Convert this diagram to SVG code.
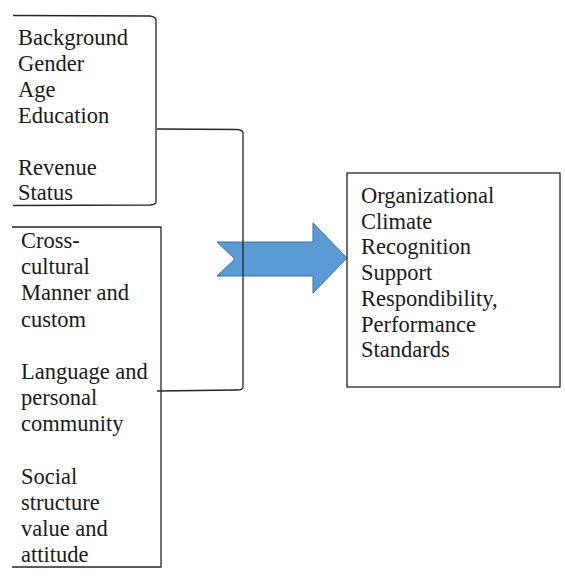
<svg xmlns="http://www.w3.org/2000/svg" width="565" height="586" viewBox="0 0 565 586">
<style>
.ln{fill:none;stroke:#262626;stroke-width:1.3}
.t{font-family:"Liberation Serif","Times New Roman",serif;font-size:22.5px;fill:#1a1a1a}
</style>
<rect width="565" height="586" fill="#fff"/>
<g id="demographics">
<path class="ln" d="M13,15.5 L150,16 Q156,17 156,20 L156,202 Q156,204.5 150,205 L13,205.5"/>
<text class="t" x="18" y="45">Background</text>
<text class="t" x="18" y="70.9">Gender</text>
<text class="t" x="18" y="96.8">Age</text>
<text class="t" x="18" y="122.7">Education</text>
<text class="t" x="18" y="174.5">Revenue</text>
<text class="t" x="18" y="200.4">Status</text>
</g>
<g id="arrow">
<polygon points="217,242 313,242 313,223 347,258 313,293 313,276 217,276 235,259" fill="#5B9BD5" stroke="#41719C" stroke-width="1"/>
</g>
<g id="cultural">
<path class="ln" d="M12,227 L161,227 L161,567 L12,567"/>
<text class="t" x="21" y="248">Cross-</text>
<text class="t" x="21" y="274.2">cultural</text>
<text class="t" x="21" y="300.4">Manner and</text>
<text class="t" x="21" y="326.6">custom</text>
<text class="t" x="21" y="379">Language and</text>
<text class="t" x="21" y="405.2">personal</text>
<text class="t" x="21" y="431.4">community</text>
<text class="t" x="21" y="483.8">Social</text>
<text class="t" x="21" y="510">structure</text>
<text class="t" x="21" y="536.2">value and</text>
<text class="t" x="21" y="562.4">attitude</text>
</g>
<g id="connectors">
<path class="ln" d="M157,129 L237,129.5 Q243,130 243,133 L243,387 Q243,390 237,390 L157,391"/>
</g>
<g id="climate">
<rect class="ln" x="347" y="173" width="213" height="214"/>
<text class="t" x="361" y="203">Organizational</text>
<text class="t" x="361" y="228.7">Climate</text>
<text class="t" x="361" y="254.4">Recognition</text>
<text class="t" x="361" y="280.1">Support</text>
<text class="t" x="361" y="305.8">Respondibility,</text>
<text class="t" x="361" y="331.5">Performance</text>
<text class="t" x="361" y="357.2">Standards</text>
</g>
</svg>
